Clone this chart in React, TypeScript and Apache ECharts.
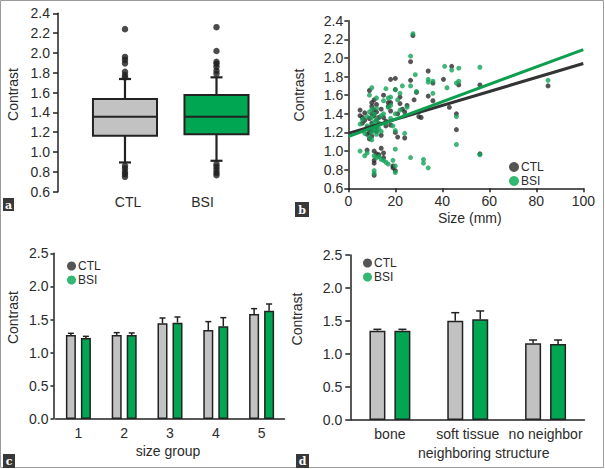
import React, { useEffect, useRef } from 'react';
import * as echarts from 'echarts';

// ---------- Panel a: box plots ----------
const boxGroups = ['CTL', 'BSI'];
// [lower whisker, Q1, median, Q3, upper whisker]
const ctlBox = [0.895, 1.165, 1.355, 1.535, 1.737];
const bsiBox = [0.912, 1.179, 1.355, 1.576, 1.754];
const ctlOutliers = [2.24, 1.96, 1.93, 1.895, 1.81, 1.777, 1.754, 0.861, 0.834, 0.8, 0.777, 0.75];
const bsiOutliers = [2.26, 2.02, 1.91, 1.89, 1.86, 1.82, 1.79, 0.878, 0.85, 0.82, 0.79, 0.767];

// ---------- Panel b: scatter (size mm, contrast) ----------
const ctlScatter = [
  [5, 1.44], [5, 1.38], [6, 1.36], [6, 1.3], [7, 1.41], [7, 1.33], [8, 1.25], [8, 1.18], [8, 1.01],
  [9, 1.65], [9, 1.35], [9, 1.2], [9, 1.13], [10, 1.52], [10, 1.48], [10, 1.4], [10, 1.3], [10, 1.22],
  [10, 1.16], [11, 1.55], [11, 1.44], [11, 1.38], [11, 1.27], [11, 1.0], [11, 0.9], [11, 0.87], [11, 0.74],
  [12, 1.5], [12, 1.42], [12, 1.33], [12, 1.25], [12, 1.21], [12, 0.97], [13, 1.36], [13, 1.29], [13, 0.96],
  [14, 1.45], [14, 1.17], [14, 1.03], [15, 1.6], [15, 1.36], [15, 0.98], [15, 0.93], [16, 1.32], [16, 1.27],
  [17, 1.52], [17, 1.48], [18, 1.77], [18, 1.52], [18, 1.43], [18, 1.28], [19, 0.84], [19, 0.82], [20, 1.78],
  [20, 1.66], [20, 1.2], [20, 0.79], [21, 1.4], [21, 1.15], [22, 1.58], [22, 1.51], [23, 1.45], [24, 1.42],
  [24, 1.14], [25, 1.49], [27.5, 2.24], [26.5, 1.96], [26.5, 1.76], [28, 1.55], [29, 1.63], [30, 1.37],
  [31, 1.36], [34, 1.86], [34, 1.59], [36, 1.73], [36, 1.54], [40.5, 1.77], [43, 1.47], [44, 1.91],
  [46, 1.4], [46, 1.23], [47, 1.71], [56, 1.71], [56, 0.97], [85, 1.7],
];
const bsiScatter = [
  [5, 1.29], [5, 1.0], [6, 1.34], [6, 1.22], [7, 1.19], [7, 0.95], [8, 1.37], [8, 1.27], [8, 0.98],
  [9, 1.6], [9, 1.42], [9, 1.25], [9, 1.15], [10, 1.68], [10, 1.45], [10, 1.36], [10, 1.28], [10, 1.2],
  [10, 1.12], [11, 1.4], [11, 1.31], [11, 1.24], [11, 0.95], [11, 0.79], [11, 0.76], [12, 1.57], [12, 1.46],
  [12, 1.34], [12, 1.22], [12, 1.18], [12, 0.93], [13, 1.3], [13, 1.24], [13, 0.94], [14, 1.38], [14, 1.21],
  [14, 0.91], [15, 1.54], [15, 1.4], [15, 0.9], [16, 1.67], [16, 1.3], [16, 0.88], [17, 1.57], [17, 1.47],
  [17, 0.86], [18, 1.58], [18, 1.49], [18, 1.35], [19, 1.27], [19, 0.9], [20, 1.66], [20, 1.4], [20, 1.22],
  [20, 1.02], [20, 0.84], [20, 0.77], [21, 1.55], [22, 1.62], [22, 1.44], [23, 1.7], [24, 1.38], [24, 1.19],
  [25, 1.47], [27.5, 2.26], [26.5, 2.02], [26.5, 1.7], [26.5, 0.93], [28.5, 1.82], [29, 1.64], [30, 1.42],
  [32, 0.91], [32, 0.87], [34, 1.77], [34, 1.74], [34, 0.82], [36, 1.75], [36, 1.62], [41, 1.91], [42, 1.68],
  [44, 1.87], [46, 1.37], [46, 1.07], [46, 1.73], [47, 1.89], [47, 1.75], [56, 1.9], [56, 0.96], [85, 1.76],
];
const ctlFit = [[0, 1.19], [100, 1.94]];
const bsiFit = [[0, 1.155], [100, 2.09]];

// ---------- Panel c: size groups ----------
const sizeGroups = ['1', '2', '3', '4', '5'];
const ctlSizeMean = [1.268, 1.268, 1.444, 1.343, 1.585];
const ctlSizeUpper = [1.293, 1.303, 1.524, 1.469, 1.665];
const bsiSizeMean = [1.222, 1.268, 1.454, 1.398, 1.635];
const bsiSizeUpper = [1.247, 1.298, 1.539, 1.529, 1.735];

// ---------- Panel d: neighboring structure ----------
const structures = ['bone', 'soft tissue', 'no neighbor'];
const ctlStructMean = [1.354, 1.505, 1.162];
const ctlStructUpper = [1.374, 1.626, 1.212];
const bsiStructMean = [1.354, 1.525, 1.152];
const bsiStructUpper = [1.374, 1.652, 1.212];

const FONT = '"Liberation Sans", Arial, sans-serif';
const TXT = '#2b2b2b';
const AX = '#222';
const GREEN = '#00a651';
const GRAY = '#c2c2c2';
const BLACKDOT = '#2a2a2a';

export default function App() {
  const ref = useRef<HTMLDivElement>(null);
  useEffect(() => {
    if (!ref.current) return;
    const chart = echarts.init(ref.current, null, { renderer: 'svg' });

    const axisLine = { show: true, lineStyle: { color: AX, width: 1.5 } };
    const yAxisBase = (grid: number, extra: any) => ({
      type: 'value',
      gridIndex: grid,
      axisLine,
      splitLine: { show: false },
      nameLocation: 'middle',
      nameRotate: 90,
      name: 'Contrast',
      ...extra,
    });

    const boxData = [ [1, ...ctlBox], [2, ...bsiBox] ];
    const boxColors = [GRAY, GREEN];

    const errSeries = (gi: number, means: number[], uppers: number[], offset: number, cap: number) => ({
      type: 'custom',
      xAxisIndex: gi,
      yAxisIndex: gi,
      silent: true,
      z: 3,
      data: means.map((m, i) => [i, m, uppers[i]]),
      renderItem: (params: any, api: any) => {
        const c = api.value(0);
        const p0 = api.coord([c, api.value(1)]);
        const p1 = api.coord([c, api.value(2)]);
        const x = p0[0] + offset;
        const st = { stroke: AX, lineWidth: 1.5 };
        return {
          type: 'group',
          children: [
            { type: 'line', shape: { x1: x, y1: p0[1], x2: x, y2: p1[1] }, style: st },
            { type: 'line', shape: { x1: x - cap / 2, y1: p1[1], x2: x + cap / 2, y2: p1[1] }, style: st },
          ],
        };
      },
    });

    const barSeries = (gi: number, name: string, data: number[], color: string, w: number, gap: string) => ({
      type: 'bar',
      name,
      xAxisIndex: gi,
      yAxisIndex: gi,
      data,
      barWidth: w,
      barGap: gap,
      itemStyle: { color, borderColor: AX, borderWidth: 1.5 },
    });

    const legendBase = (left: number, top: number, size: number, fs: number) => ({
      left,
      top,
      orient: 'vertical',
      icon: 'circle',
      itemWidth: size,
      itemHeight: size,
      itemGap: 2,
      selectedMode: false,
      textStyle: { fontFamily: FONT, fontSize: fs, color: TXT, padding: [0, 0, 0, -3] },
      data: [
        { name: 'CTL', itemStyle: { color: BLACKDOT } },
        { name: 'BSI', itemStyle: { color: GREEN } },
      ],
    });

    const panelLabel = (x: number, y: number, w: number, h: number, t: string) => ({
      type: 'group',
      children: [
        { type: 'rect', shape: { x, y, width: w, height: h }, style: { fill: '#383838' } },
        {
          type: 'text',
          x: x + w / 2,
          y: y + h / 2 + 0.5,
          style: {
            text: t,
            fill: '#fff',
            font: 'bold 11px "DejaVu Serif", serif',
            align: 'center',
            verticalAlign: 'middle',
          },
        },
      ],
    });

    const option: any = {
      animation: false,
      backgroundColor: '#fff',
      textStyle: { fontFamily: FONT, color: TXT },
      grid: [
        { left: 58, top: 13.3, width: 213.4, height: 178.4 },
        { left: 348.3, top: 20.7, width: 235, height: 167.6 },
        { left: 55.5, top: 253.3, width: 229, height: 165.7 },
        { left: 351, top: 255, width: 233.5, height: 165 },
      ],
      xAxis: [
        {
          type: 'value',
          gridIndex: 0,
          min: 0.268,
          max: 2.6,
          axisLine: { show: false },
          axisTick: { show: false },
          splitLine: { show: false },
          axisLabel: {
            customValues: [1, 2],
            margin: 3,
            fontSize: 14,
            color: TXT,
            formatter: (v: number) => (Math.round(v) === 1 ? '{c|' + boxGroups[0] + '}' : '{b|' + boxGroups[1] + '}'),
            rich: {
              c: { fontSize: 14, fontFamily: FONT, color: TXT, padding: [0, 0, 0, 6] },
              b: { fontSize: 14, fontFamily: FONT, color: TXT, padding: [0, 28, 0, 0] },
            },
          },
        },
        {
          type: 'value',
          gridIndex: 1,
          min: 0,
          max: 100,
          interval: 20,
          axisLine,
          axisTick: { show: true, length: 4, lineStyle: { color: AX, width: 1.5 } },
          splitLine: { show: false },
          axisLabel: { fontSize: 14, color: TXT, margin: 6 },
          name: 'Size (mm)',
          nameLocation: 'middle',
          nameGap: 23,
          nameTextStyle: { fontSize: 14, color: TXT, padding: [0, 0, 0, 8] },
        },
        {
          type: 'category',
          gridIndex: 2,
          data: sizeGroups,
          axisLine,
          axisTick: { show: false },
          axisLabel: { fontSize: 14, color: TXT, margin: 7 },
          name: 'size group',
          nameLocation: 'middle',
          nameGap: 25,
          nameTextStyle: { fontSize: 14, color: TXT, padding: [0, 4, 0, 0] },
        },
        {
          type: 'category',
          gridIndex: 3,
          data: structures,
          axisLine,
          axisTick: { show: false },
          axisLabel: { fontSize: 14, color: TXT, margin: 7, interval: 0 },
          name: 'neighboring structure',
          nameLocation: 'middle',
          nameGap: 26,
          nameTextStyle: { fontSize: 14, color: TXT, padding: [0, 0, 0, 32] },
        },
      ],
      yAxis: [
        yAxisBase(0, {
          min: 0.6,
          max: 2.4,
          interval: 0.2,
          axisTick: { show: true, length: 5, lineStyle: { color: AX, width: 1.5 } },
          axisLabel: { fontSize: 14, color: TXT, margin: 8, formatter: (v: number) => v.toFixed(1) },
          nameGap: 38,
          nameTextStyle: { fontSize: 14, color: TXT, padding: [0, 0, 0, 16] },
        }),
        yAxisBase(1, {
          min: 0.6,
          max: 2.4,
          interval: 0.2,
          axisTick: { show: true, length: 4, lineStyle: { color: AX, width: 1.5 } },
          axisLabel: { fontSize: 14, color: TXT, margin: 5, formatter: (v: number) => v.toFixed(1) },
          nameGap: 42,
          nameTextStyle: { fontSize: 14, color: TXT, padding: [0, 0, 0, 19] },
        }),
        yAxisBase(2, {
          min: 0,
          max: 2.5,
          interval: 0.5,
          offset: 2,
          axisTick: { show: true, length: 3, lineStyle: { color: AX, width: 1.5 } },
          axisLabel: { fontSize: 14, color: TXT, margin: 5, formatter: (v: number) => v.toFixed(1) },
          nameGap: 34,
          nameTextStyle: { fontSize: 14, color: TXT, padding: [0, 0, 0, 37] },
        }),
        yAxisBase(3, {
          min: 0,
          max: 2.5,
          interval: 0.5,
          offset: 0.7,
          axisTick: { show: true, length: 5, lineStyle: { color: AX, width: 1.5 } },
          axisLabel: { fontSize: 14, color: TXT, margin: 8, formatter: (v: number) => v.toFixed(1) },
          nameGap: 46,
          nameTextStyle: { fontSize: 14, color: TXT, padding: [0, 0, 0, 37] },
        }),
      ],
      legend: [
        legendBase(504, 156, 10, 12),
        legendBase(62, 255, 9, 12),
        legendBase(358, 252, 9, 12),
      ],
      series: [
        // Panel a boxes
        {
          type: 'custom',
          name: 'box',
          xAxisIndex: 0,
          yAxisIndex: 0,
          data: boxData,
          z: 2,
          renderItem: (params: any, api: any) => {
            const x = api.value(0);
            const lo = api.coord([x, api.value(1)]);
            const q1 = api.coord([x, api.value(2)]);
            const md = api.coord([x, api.value(3)]);
            const q3 = api.coord([x, api.value(4)]);
            const hi = api.coord([x, api.value(5)]);
            const hw = api.size([0.7, 0])[0] / 2;
            const cx = lo[0];
            const ln = { stroke: AX, lineWidth: 2.2 };
            return {
              type: 'group',
              children: [
                { type: 'line', shape: { x1: cx, y1: q3[1], x2: cx, y2: hi[1] }, style: ln },
                { type: 'line', shape: { x1: cx, y1: q1[1], x2: cx, y2: lo[1] }, style: ln },
                { type: 'line', shape: { x1: cx - 6, y1: hi[1], x2: cx + 6, y2: hi[1] }, style: ln },
                { type: 'line', shape: { x1: cx - 6, y1: lo[1], x2: cx + 6, y2: lo[1] }, style: ln },
                {
                  type: 'rect',
                  shape: { x: cx - hw, y: q3[1], width: hw * 2, height: q1[1] - q3[1] },
                  style: { fill: boxColors[params.dataIndex], stroke: AX, lineWidth: 2 },
                },
                { type: 'line', shape: { x1: cx - hw, y1: md[1], x2: cx + hw, y2: md[1] }, style: { stroke: AX, lineWidth: 2 } },
              ],
            };
          },
        },
        {
          type: 'scatter',
          name: 'outliers',
          xAxisIndex: 0,
          yAxisIndex: 0,
          symbolSize: 6.5,
          itemStyle: { color: '#1e1e1e' },
          z: 3,
          data: [
            ...ctlOutliers.map((v) => [1, v]),
            ...bsiOutliers.map((v) => [2, v]),
          ],
        },
        // Panel b
        {
          type: 'scatter',
          name: 'CTL',
          xAxisIndex: 1,
          yAxisIndex: 1,
          symbolSize: 5,
          itemStyle: { color: BLACKDOT },
          data: ctlScatter,
          z: 2,
        },
        {
          type: 'scatter',
          name: 'BSI',
          xAxisIndex: 1,
          yAxisIndex: 1,
          symbolSize: 5,
          itemStyle: { color: '#13a358' },
          data: bsiScatter,
          z: 2,
        },
        {
          type: 'line',
          name: 'CTL fit',
          xAxisIndex: 1,
          yAxisIndex: 1,
          data: ctlFit,
          showSymbol: false,
          lineStyle: { color: '#333', width: 3 },
          z: 4,
        },
        {
          type: 'line',
          name: 'BSI fit',
          xAxisIndex: 1,
          yAxisIndex: 1,
          data: bsiFit,
          showSymbol: false,
          lineStyle: { color: '#0e9e50', width: 3 },
          z: 5,
        },
        // Panel c
        barSeries(2, 'CTL', ctlSizeMean, GRAY, 10, '50%'),
        barSeries(2, 'BSI', bsiSizeMean, GREEN, 10, '50%'),
        errSeries(2, ctlSizeMean, ctlSizeUpper, -7.5, 6),
        errSeries(2, bsiSizeMean, bsiSizeUpper, 7.5, 6),
        // Panel d
        barSeries(3, 'CTL', ctlStructMean, GRAY, 16, '56%'),
        barSeries(3, 'BSI', bsiStructMean, GREEN, 16, '56%'),
        errSeries(3, ctlStructMean, ctlStructUpper, -12.5, 8),
        errSeries(3, bsiStructMean, bsiStructUpper, 12.5, 8),
      ],
      graphic: [
        {
          type: 'rect',
          shape: { x: 0.5, y: 0.5, width: 603, height: 467 },
          style: { fill: 'none', stroke: '#9a9a9a', lineWidth: 1 },
          silent: true,
        },
        panelLabel(3, 198, 11, 13, 'a'),
        panelLabel(295, 202, 14, 15, 'b'),
        panelLabel(3, 454, 12, 14, 'c'),
        panelLabel(296, 454, 13, 14, 'd'),
      ],
    };

    chart.setOption(option);
    return () => chart.dispose();
  }, []);

  return (
    <div
      ref={ref}
      style={{ position: 'absolute', left: 0, top: 0, width: 605, height: 469, background: '#fff' }}
    />
  );
}
